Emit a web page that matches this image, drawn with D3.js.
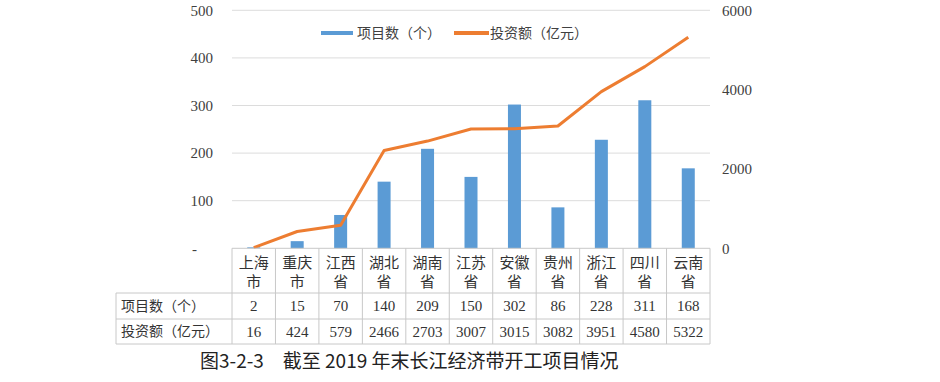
<!DOCTYPE html>
<html><head><meta charset="utf-8">
<script src="https://cdn.jsdelivr.net/npm/d3@7"></script>
<style>
body{margin:0;background:#fff;}
text{font-family:"Liberation Serif","Noto Sans CJK SC",serif;}
</style></head>
<body><svg id="c" width="940" height="382"></svg>
<script>
const categories = ["上海市","重庆市","江西省","湖北省","湖南省","江苏省","安徽省","贵州省","浙江省","四川省","云南省"];
const catLine1 = ["上海","重庆","江西","湖北","湖南","江苏","安徽","贵州","浙江","四川","云南"];
const catLine2 = ["市","市","省","省","省","省","省","省","省","省","省"];
const projects = [2,15,70,140,209,150,302,86,228,311,168];
const investment = [16,424,579,2466,2703,3007,3015,3082,3951,4580,5322];
const leftTicks = [0,100,200,300,400,500];
const leftTickLabels = ["-","100","200","300","400","500"];
const rightTicks = [0,2000,4000,6000];
const seriesNames = ["项目数（个）","投资额（亿元）"];
const caption = "图3-2-3　截至 2019 年末长江经济带开工项目情况";

const svg = d3.select("#c");
const x0 = 232, x1 = 710, yTop = 10.3, yBase = 248.3;
const x = d3.scaleBand().domain(categories).range([x0, x1]);
const yL = d3.scaleLinear().domain([0,500]).range([yBase, yTop]);
const yR = d3.scaleLinear().domain([0,6000]).range([yBase, yTop]);
const blue = "#5B9BD5", orange = "#ED7D31";

// gridlines
svg.append("g").selectAll("line").data(leftTicks.filter(d=>d>0)).join("line")
  .attr("x1", x0).attr("x2", x1).attr("y1", d=>yL(d)).attr("y2", d=>yL(d))
  .attr("stroke","#dcdcdc").attr("stroke-width",1);

// left axis
const axL = d3.axisLeft(yL).tickValues(leftTicks).tickSize(0).tickPadding(0)
  .tickFormat((d,i)=>leftTickLabels[i]);
const gL = svg.append("g").attr("transform","translate(213,0)").call(axL);
gL.select(".domain").remove();
gL.selectAll("text").attr("font-size",15).attr("fill","#404040")
  .attr("font-family","Liberation Serif")
  .attr("dx",d=>d===0?-16:0);

// right axis
const axR = d3.axisRight(yR).tickValues(rightTicks).tickSize(0).tickPadding(0)
  .tickFormat(d3.format("d"));
const gR = svg.append("g").attr("transform","translate(722,0)").call(axR);
gR.select(".domain").remove();
gR.selectAll("text").attr("font-size",15).attr("fill","#404040")
  .attr("font-family","Liberation Serif");

// bars
const bw = 13;
svg.append("g").selectAll("rect").data(projects).join("rect")
  .attr("x",(d,i)=>x(categories[i]) + x.bandwidth()/2 - bw/2)
  .attr("width",bw)
  .attr("y",d=>yL(d)).attr("height",d=>yBase - yL(d))
  .attr("fill",blue);

// line
const line = d3.line().x((d,i)=>x(categories[i]) + x.bandwidth()/2).y(d=>yR(d));
svg.append("path").datum(investment).attr("d",line)
  .attr("fill","none").attr("stroke",orange).attr("stroke-width",3)
  .attr("stroke-linejoin","round");

// legend
const lg = svg.append("g");
lg.append("rect").attr("x",321).attr("y",31).attr("width",32).attr("height",4).attr("fill",blue);
lg.append("text").attr("x",357).attr("y",33).attr("dy","0.35em").attr("font-size",14)
  .attr("fill","#404040").text(seriesNames[0]);
lg.append("rect").attr("x",454).attr("y",31).attr("width",35).attr("height",4).attr("fill",orange);
lg.append("text").attr("x",490).attr("y",33).attr("dy","0.35em").attr("font-size",14)
  .attr("fill","#404040").text(seriesNames[1]);

// table
const tb = svg.append("g");
const rowTop = 248.3, r1 = 293, r2 = 319, r3 = 344, labX = 116;
const bc = "#c8c8c8";
tb.append("line").attr("x1",x0).attr("x2",x1).attr("y1",rowTop).attr("y2",rowTop).attr("stroke",bc);
[r1,r2,r3].forEach(y=>tb.append("line").attr("x1",labX).attr("x2",x1).attr("y1",y).attr("y2",y).attr("stroke",bc));
tb.append("line").attr("x1",labX).attr("x2",labX).attr("y1",r1).attr("y2",r3).attr("stroke",bc);
categories.forEach((c,i)=>{
  tb.append("line").attr("x1",x(c)).attr("x2",x(c)).attr("y1",rowTop).attr("y2",r3).attr("stroke",bc);
});
tb.append("line").attr("x1",x1).attr("x2",x1).attr("y1",rowTop).attr("y2",r3).attr("stroke",bc);

const tc = "#333";
categories.forEach((c,i)=>{
  const cx = x(c) + x.bandwidth()/2;
  tb.append("text").attr("x",cx).attr("y",263).attr("dy","0.35em").attr("text-anchor","middle")
    .attr("font-size",15).attr("fill",tc).text(catLine1[i]);
  tb.append("text").attr("x",cx).attr("y",282).attr("dy","0.35em").attr("text-anchor","middle")
    .attr("font-size",15).attr("fill",tc).text(catLine2[i]);
  tb.append("text").attr("x",cx).attr("y",(r1+r2)/2).attr("dy","0.35em").attr("text-anchor","middle")
    .attr("font-size",15).attr("fill",tc).text(projects[i]);
  tb.append("text").attr("x",cx).attr("y",(r2+r3)/2).attr("dy","0.35em").attr("text-anchor","middle")
    .attr("font-size",15).attr("fill",tc).text(investment[i]);
});
tb.append("text").attr("x",121).attr("y",(r1+r2)/2).attr("dy","0.35em").attr("font-size",14)
  .attr("fill",tc).text(seriesNames[0]);
tb.append("text").attr("x",121).attr("y",(r2+r3)/2).attr("dy","0.35em").attr("font-size",14)
  .attr("fill",tc).text(seriesNames[1]);

// caption
svg.append("text").attr("x",200).attr("y",361).attr("dy","0.35em").attr("font-size",19)
  .attr("fill","#222").style("font-family","'Noto Sans CJK SC',sans-serif").text(caption);
</script></body></html>
